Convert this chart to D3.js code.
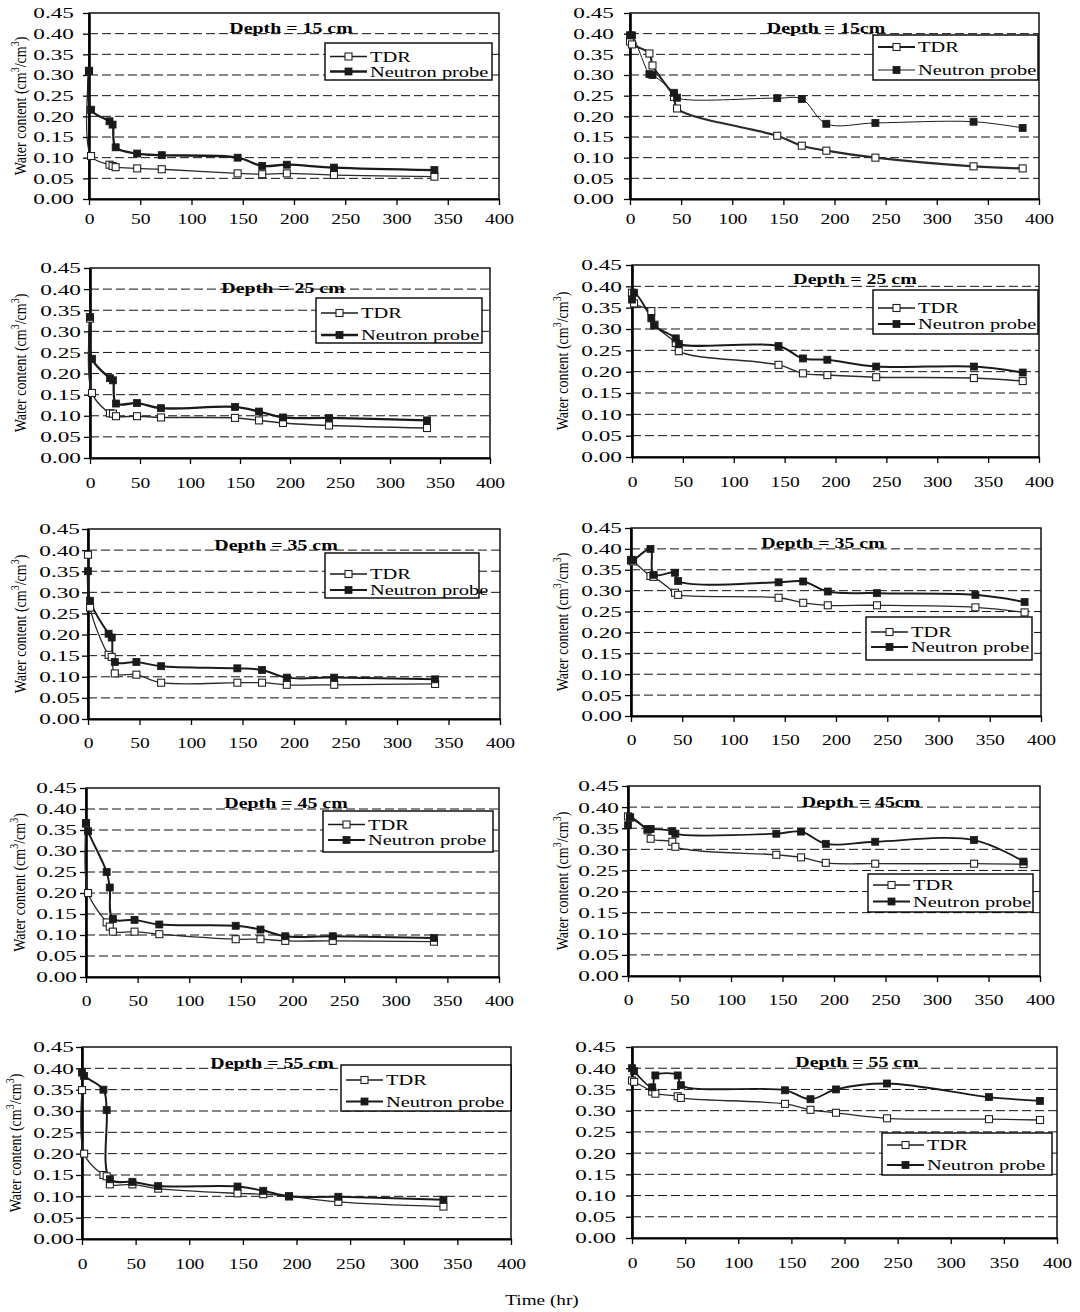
<!DOCTYPE html>
<html><head><meta charset="utf-8">
<script src="https://cdn.jsdelivr.net/npm/d3@7"></script>
<style>body{margin:0;background:#fff}</style>
</head><body>
<svg id="c" width="1080" height="1312"></svg>
<script>
// ---------- DATA ----------
const leftTimes  = [0, 2, 20, 23, 26, 47, 71, 145, 169, 193, 239, 337];
const rightTimes = [0, 2, 19, 22, 43, 46, 144, 168, 192, 240, 336, 384];

const p1Tdr  = [0.310, 0.104, 0.083, 0.080, 0.077, 0.074, 0.072, 0.062, 0.060, 0.062, 0.058, 0.054];
const p1Np   = [0.310, 0.216, 0.188, 0.180, 0.125, 0.110, 0.106, 0.100, 0.080, 0.083, 0.076, 0.070];
const p2Tdr  = [0.381, 0.374, 0.352, 0.323, 0.247, 0.219, 0.153, 0.129, 0.117, 0.100, 0.079, 0.074];
const p2Np   = [0.396, 0.396, 0.302, 0.300, 0.257, 0.245, 0.244, 0.242, 0.182, 0.184, 0.187, 0.172];
const p3Tdr  = [0.330, 0.154, 0.106, 0.105, 0.099, 0.099, 0.096, 0.095, 0.089, 0.083, 0.077, 0.071];
const p3Np   = [0.334, 0.235, 0.189, 0.184, 0.129, 0.130, 0.118, 0.121, 0.110, 0.096, 0.095, 0.089];
const p4Tdr  = [0.385, 0.360, 0.342, 0.310, 0.267, 0.248, 0.216, 0.196, 0.192, 0.187, 0.185, 0.178];
const p4Np   = [0.369, 0.385, 0.325, 0.308, 0.278, 0.265, 0.260, 0.231, 0.228, 0.212, 0.212, 0.198];
const p5Tdr  = [0.389, 0.264, 0.152, 0.147, 0.108, 0.105, 0.086, 0.086, 0.086, 0.081, 0.081, 0.083];
const p5Np   = [0.350, 0.280, 0.202, 0.193, 0.135, 0.135, 0.125, 0.120, 0.116, 0.098, 0.098, 0.094];
const p6Tdr  = [0.372, 0.370, 0.335, 0.333, 0.295, 0.290, 0.283, 0.271, 0.265, 0.265, 0.260, 0.248];
const p6Np   = [0.374, 0.373, 0.400, 0.338, 0.343, 0.323, 0.320, 0.322, 0.298, 0.294, 0.290, 0.273];
const p7Tdr  = [0.365, 0.200, 0.130, 0.120, 0.108, 0.108, 0.102, 0.090, 0.090, 0.086, 0.086, 0.084];
const p7Np   = [0.367, 0.347, 0.250, 0.213, 0.138, 0.136, 0.125, 0.122, 0.113, 0.097, 0.097, 0.093];
const p8Tdr  = [0.378, 0.375, 0.345, 0.325, 0.318, 0.306, 0.287, 0.281, 0.268, 0.266, 0.266, 0.265];
const p8Np   = [0.357, 0.376, 0.348, 0.348, 0.343, 0.337, 0.337, 0.342, 0.313, 0.318, 0.322, 0.271];
const p9Tdr  = [0.349, 0.200, 0.150, 0.147, 0.128, 0.128, 0.118, 0.107, 0.105, 0.100, 0.087, 0.076];
const p9Np   = [0.390, 0.382, 0.350, 0.302, 0.140, 0.134, 0.124, 0.123, 0.113, 0.100, 0.099, 0.092];
const p10Tdr = [0.371, 0.368, 0.345, 0.340, 0.334, 0.330, 0.316, 0.302, 0.295, 0.282, 0.280, 0.278];
const p10Np  = [0.400, 0.393, 0.355, 0.383, 0.383, 0.360, 0.348, 0.327, 0.350, 0.364, 0.332, 0.323];

const yTicks = [0, 0.05, 0.10, 0.15, 0.20, 0.25, 0.30, 0.35, 0.40, 0.45];
const xTicks = [0, 50, 100, 150, 200, 250, 300, 350, 400];
const titles = ["Depth = 15 cm", "Depth = 15cm", "Depth = 25 cm", "Depth = 25 cm", "Depth = 35 cm",
                "Depth = 35 cm", "Depth = 45 cm", "Depth = 45cm", "Depth = 55 cm", "Depth = 55 cm"];
const seriesNames = ["TDR", "Neutron probe"];
const xAxisTitle = "Time (hr)";

// ---------- LAYOUT / STYLE ----------
// box: [left, top, right, bottom]; leg: [x, y, w, h, row1 dy, row2 dy]; tp: title centre; gap: y tick label gap; ylx: y-title baseline x
const panels = [
  {title: titles[0], t: leftTimes,  tdr: p1Tdr,  np: p1Np,  box: [89, 13, 499, 199],    leg: [325, 43, 167, 37, 13.5, 28.5], tp: [291, 28],   gap: 15, xl: 20, ylx: 26,  wT: 1.3, wN: 2.3},
  {title: titles[1], t: rightTimes, tdr: p2Tdr,  np: p2Np,  box: [630, 13, 1039, 199],  leg: [873, 35, 165, 45, 12, 35],     tp: [826, 28],   gap: 16, xl: 20, ylx: 0,   wT: 2.2, wN: 1.0},
  {title: titles[2], t: leftTimes,  tdr: p3Tdr,  np: p3Np,  box: [90, 268, 490, 458],   leg: [316, 298, 166, 45, 15, 37],    tp: [283, 288],  gap: 9,  xl: 25, ylx: 26,  wT: 1.5, wN: 2.3},
  {title: titles[3], t: rightTimes, tdr: p4Tdr,  np: p4Np,  box: [632, 265, 1039, 457], leg: [873, 290, 165, 44, 18, 34],    tp: [855, 279],  gap: 10, xl: 25, ylx: 568, wT: 1.5, wN: 2.0},
  {title: titles[4], t: leftTimes,  tdr: p5Tdr,  np: p5Np,  box: [88, 529, 500, 719],   leg: [325, 553, 154, 45, 21, 37],    tp: [276, 545],  gap: 8,  xl: 24, ylx: 26,  wT: 1.3, wN: 2.0},
  {title: titles[5], t: rightTimes, tdr: p6Tdr,  np: p6Np,  box: [631, 528, 1041, 716], leg: [866, 617, 166, 43, 15, 30],    tp: [823, 543],  gap: 9,  xl: 24, ylx: 568, wT: 1.3, wN: 2.0},
  {title: titles[6], t: leftTimes,  tdr: p7Tdr,  np: p7Np,  box: [86, 788, 499, 977],   leg: [323, 811, 170, 41, 13.5, 29],  tp: [286, 803],  gap: 9,  xl: 24, ylx: 25,  wT: 1.3, wN: 2.0},
  {title: titles[7], t: rightTimes, tdr: p8Tdr,  np: p8Np,  box: [628, 786, 1040, 976], leg: [868, 874, 165, 38, 11, 27.5],  tp: [861, 802],  gap: 9,  xl: 24, ylx: 568, wT: 1.3, wN: 1.8},
  {title: titles[8], t: leftTimes,  tdr: p9Tdr,  np: p9Np,  box: [82, 1047, 511, 1239], leg: [341, 1065, 170, 46, 15, 36.5], tp: [272, 1063], gap: 8,  xl: 25, ylx: 21,  wT: 1.3, wN: 2.0},
  {title: titles[9], t: rightTimes, tdr: p10Tdr, np: p10Np, box: [632, 1047, 1057, 1238], leg: [882, 1133, 170, 42, 12, 32], tp: [857, 1062], gap: 16, xl: 25, ylx: 0,   wT: 1.3, wN: 1.8}
];

const FONT = "'Liberation Serif','Times New Roman',Times,serif";
const INK = "#111";
const svg = d3.select("#c");

function stext(g, x, y, str, size, sx, anchor, weight) {
  return g.append("text")
    .attr("transform", `translate(${x},${y}) scale(${sx},1)`)
    .attr("text-anchor", anchor)
    .attr("font-family", FONT)
    .attr("font-size", size)
    .attr("font-weight", weight || "normal")
    .attr("dy", "0.35em")
    .attr("fill", "#000")
    .text(str);
}

function marker(sel, filled) {
  sel.attr("width", 7).attr("height", 7)
    .attr("fill", filled ? "#1a1a1a" : "#fff")
    .attr("stroke", filled ? "#1a1a1a" : "#222")
    .attr("stroke-width", filled ? 0.8 : 1.1);
}

panels.forEach(p => {
  const [x0, yTop, x1, yBot] = p.box;
  const x = d3.scaleLinear().domain([0, 400]).range([x0, x1]);
  const y = d3.scaleLinear().domain([0, 0.45]).range([yBot, yTop]);
  const g = svg.append("g");

  // dashed grid
  g.append("g").selectAll("line").data(yTicks.filter(v => v > 0 && v < 0.449)).join("line")
    .attr("x1", x0).attr("x2", x1)
    .attr("y1", d => y(d)).attr("y2", d => y(d))
    .attr("stroke", INK).attr("stroke-width", 1).attr("stroke-dasharray", "9,4");

  // frame
  g.append("rect").attr("x", x0).attr("y", yTop).attr("width", x1 - x0).attr("height", yBot - yTop)
    .attr("fill", "none").attr("stroke", "#000").attr("stroke-width", 1.4);

  // y axis
  const ya = g.append("g").attr("transform", `translate(${x0},0)`)
    .call(d3.axisLeft(y).tickValues(yTicks).tickSize(6).tickSizeOuter(0).tickFormat(d3.format(".2f")));
  ya.select(".domain").attr("stroke", "#000").attr("stroke-width", 2.6);
  ya.selectAll(".tick line").attr("stroke", "#000").attr("stroke-width", 1.3);
  ya.selectAll(".tick text").attr("x", null).attr("dy", "0.35em")
    .attr("transform", `translate(${-p.gap},0) scale(1.66,1)`)
    .attr("font-family", FONT).attr("font-size", 14).attr("fill", "#000").attr("text-anchor", "end");

  // x axis
  const xa = g.append("g").attr("transform", `translate(0,${yBot})`)
    .call(d3.axisBottom(x).tickValues(xTicks).tickSize(6).tickSizeOuter(0));
  xa.select(".domain").attr("stroke", "#000").attr("stroke-width", 2.2);
  xa.selectAll(".tick line").attr("stroke", "#000").attr("stroke-width", 1.3);
  xa.selectAll(".tick text").attr("y", null).attr("dy", "0.35em")
    .attr("transform", `translate(0,${p.xl}) scale(1.3,1)`)
    .attr("font-family", FONT).attr("font-size", 15).attr("fill", "#000");

  // title
  stext(g, p.tp[0], p.tp[1], p.title, 14, 1.42, "middle", "bold");

  // series
  const tdrPts = p.t.map((t, i) => [t, p.tdr[i]]);
  const npPts = p.t.map((t, i) => [t, p.np[i]]);
  const line = d3.line().x(d => x(d[0])).y(d => y(d[1])).curve(d3.curveCatmullRom.alpha(0.5));
  g.append("path").attr("d", line(tdrPts)).attr("fill", "none").attr("stroke", "#2a2a2a").attr("stroke-width", p.wT);
  g.append("path").attr("d", line(npPts)).attr("fill", "none").attr("stroke", "#1a1a1a").attr("stroke-width", p.wN);
  g.append("g").selectAll("rect").data(tdrPts).join("rect")
    .attr("x", d => x(d[0]) - 3.5).attr("y", d => y(d[1]) - 3.5).call(marker, false);
  g.append("g").selectAll("rect").data(npPts).join("rect")
    .attr("x", d => x(d[0]) - 3.5).attr("y", d => y(d[1]) - 3.5).call(marker, true);

  // legend
  const [lx, ly, lw, lh, r1, r2] = p.leg;
  const lg = g.append("g");
  lg.append("rect").attr("x", lx).attr("y", ly).attr("width", lw).attr("height", lh)
    .attr("fill", "#fff").attr("stroke", "#000").attr("stroke-width", 1.4);
  [[r1, p.wT, false, seriesNames[0]], [r2, p.wN, true, seriesNames[1]]].forEach(([ry, w, filled, name]) => {
    lg.append("line").attr("x1", lx + 5).attr("x2", lx + 42).attr("y1", ly + ry).attr("y2", ly + ry)
      .attr("stroke", "#1a1a1a").attr("stroke-width", w);
    lg.append("rect").attr("x", lx + 20).attr("y", ly + ry - 3.5).call(marker, filled);
    stext(lg, lx + 45, ly + ry, name, 15, 1.36, "start");
  });

  // y-axis title
  if (p.ylx) {
    const cy = (yTop + yBot) / 2;
    const t = g.append("text")
      .attr("transform", `translate(${p.ylx},${cy}) rotate(-90) scale(1,1.2)`)
      .attr("text-anchor", "middle").attr("font-family", FONT).attr("font-size", 14).attr("fill", "#000");
    t.append("tspan").text("Water content (cm");
    t.append("tspan").attr("dy", -6).attr("font-size", 10).text("3");
    t.append("tspan").attr("dy", 6).text("/cm");
    t.append("tspan").attr("dy", -6).attr("font-size", 10).text("3");
    t.append("tspan").attr("dy", 6).text(")");
  }
});

// shared x-axis title
stext(svg, 542, 1300, xAxisTitle, 14, 1.37, "middle");
</script>
</body></html>
